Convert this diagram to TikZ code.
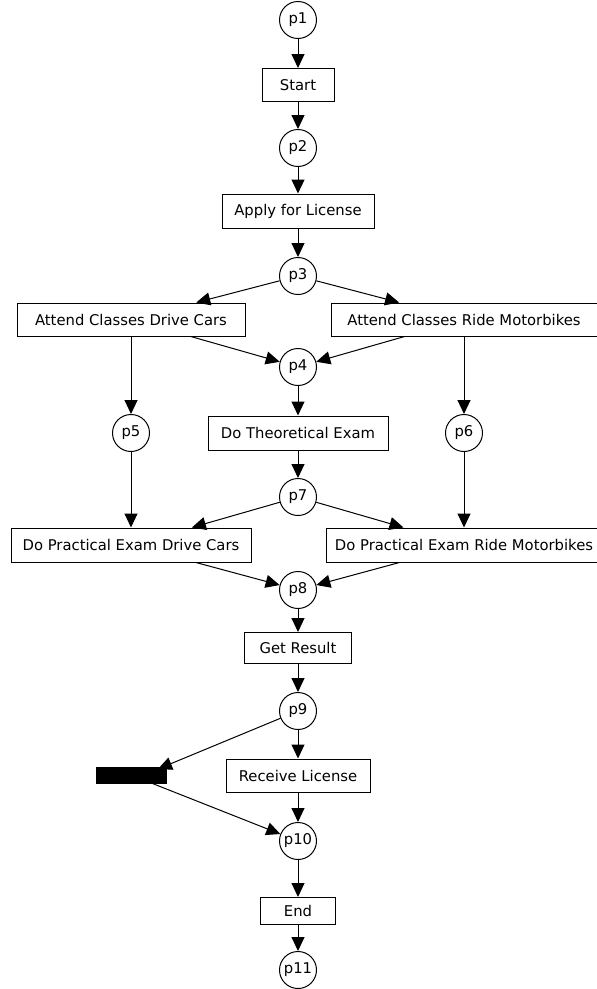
\documentclass[tikz,border=0pt]{standalone}
\usepackage{fontspec}
\setmainfont{DejaVu Sans}
\usetikzlibrary{arrows.meta}

\tikzset{
  place/.style={draw, circle, line width=1pt, minimum size=37pt, inner sep=0pt, font=\fontsize{14.8}{18}\selectfont},
  trans/.style={draw, rectangle, line width=1pt, minimum height=34pt, inner sep=0pt, font=\fontsize{14.8}{18}\selectfont},
  blackbar/.style={fill=black, draw=black, rectangle, minimum width=70pt, minimum height=16pt, inner sep=0pt},
  flow/.style={draw, line width=1pt, -{Triangle[length=14pt,width=13pt]}},
}

\begin{document}
\begin{tikzpicture}[x=1pt, y=-1pt]
  \useasboundingbox (0,0) rectangle (597,989);

  % places and transitions along the main line
  \node[place] (p1) at (298,20) {p1};
  \node[trans, minimum width=72pt, minimum height=33pt] (start) at (298,85) {Start};
  \node[place] (p2) at (298,148) {p2};
  \node[trans, minimum width=152pt] (apply) at (298,211) {Apply for License};
  \node[place] (p3) at (298,276) {p3};

  % classes
  \node[trans, minimum width=228pt, minimum height=33pt] (acdc) at (131,319.5) {Attend Classes Drive Cars};
  \node[trans, minimum width=266pt, minimum height=33pt] (acrm) at (464,319.5) {Attend Classes Ride Motorbikes};
  \node[place] (p4) at (298,367) {p4};

  % theory row
  \node[place] (p5) at (131,433) {p5};
  \node[trans, minimum width=180pt] (theory) at (298,433) {Do Theoretical Exam};
  \node[place] (p6) at (464,433) {p6};
  \node[place] (p7) at (298,497) {p7};

  % practical exams
  \node[trans, minimum width=240pt] (pedc) at (131,545) {Do Practical Exam Drive Cars};
  \node[trans, minimum width=276pt] (perm) at (464,545) {Do Practical Exam Ride Motorbikes};
  \node[place] (p8) at (298,590) {p8};

  % result and licence
  \node[trans, minimum width=107pt, minimum height=31pt] (result) at (298,648) {Get Result};
  \node[place] (p9) at (298,711) {p9};
  \node[blackbar] (blk) at (131,775) {};
  \coordinate (blkin) at (158,769);
  \node[trans, minimum width=144pt, minimum height=33pt] (receive) at (298,775.5) {Receive License};
  \node[place] (p10) at (298,841) {p10};
  \node[trans, minimum width=75pt, minimum height=27pt] (end) at (298,911) {End};
  \node[place] (p11) at (298,970) {p11};

  % arcs
  \draw[flow] (p1) -- (start);
  \draw[flow] (start) -- (p2);
  \draw[flow] (p2) -- (apply);
  \draw[flow] (apply) -- (p3);
  \draw[flow] (p3) -- (acdc);
  \draw[flow] (p3) -- (acrm);
  \draw[flow] (acdc) -- (p4);
  \draw[flow] (acrm) -- (p4);
  \draw[flow] (acdc) -- (p5);
  \draw[flow] (acrm) -- (p6);
  \draw[flow] (p4) -- (theory);
  \draw[flow] (theory) -- (p7);
  \draw[flow] (p5) -- (pedc);
  \draw[flow] (p6) -- (perm);
  \draw[flow] (p7) -- (pedc);
  \draw[flow] (p7) -- (perm);
  \draw[flow] (pedc) -- (p8);
  \draw[flow] (perm) -- (p8);
  \draw[flow] (p8) -- (result);
  \draw[flow] (result) -- (p9);
  \draw[flow] (p9) -- (blkin);
  \draw[flow] (p9) -- (receive);
  \draw[flow] (receive) -- (p10);
  \draw[flow] (blk) -- (p10);
  \draw[flow] (p10) -- (end);
  \draw[flow] (end) -- (p11);
\end{tikzpicture}
\end{document}
